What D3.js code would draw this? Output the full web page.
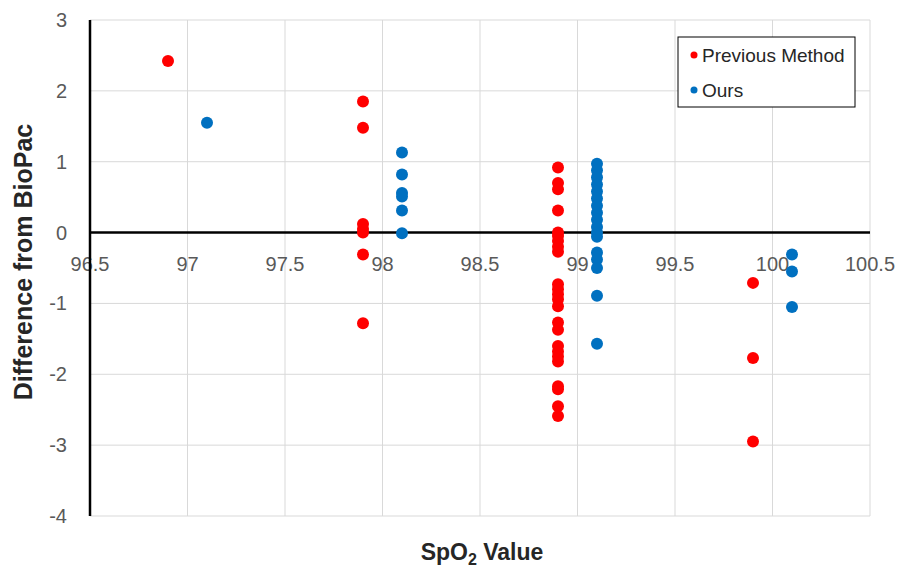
<!DOCTYPE html>
<html>
<head>
<meta charset="utf-8">
<script src="https://cdn.jsdelivr.net/npm/d3@7"></script>
<style>
  body { margin: 0; background: #fff; }
  svg { font-family: "Liberation Sans", Arial, sans-serif; }
</style>
</head>
<body>
<svg id="chart" width="905" height="571"></svg>
<script>
// data
var prevX = [96.9,
  97.9, 97.9, 97.9, 97.9, 97.9, 97.9, 97.9,
  98.9, 98.9, 98.9, 98.9, 98.9, 98.9, 98.9, 98.9, 98.9,
  98.9, 98.9, 98.9, 98.9, 98.9, 98.9, 98.9, 98.9, 98.9, 98.9, 98.9, 98.9, 98.9, 98.9, 98.9,
  99.9, 99.9, 99.9];
var prevY = [2.42,
  1.85, 1.48, 0.12, 0.05, 0.0, -0.31, -1.28,
  0.92, 0.7, 0.61, 0.31, 0.0, -0.05, -0.12, -0.2, -0.27,
  -0.73, -0.8, -0.87, -0.94, -1.04, -1.27, -1.37, -1.6, -1.68, -1.75, -1.82, -2.17, -2.21, -2.45, -2.59,
  -0.71, -1.77, -2.95];

var oursX = [97.1,
  98.1, 98.1, 98.1, 98.1, 98.1, 98.1,
  99.1, 99.1, 99.1, 99.1, 99.1, 99.1, 99.1, 99.1, 99.1, 99.1, 99.1, 99.1, 99.1, 99.1, 99.1, 99.1, 99.1,
  100.1, 100.1, 100.1];
var oursY = [1.55,
  1.13, 0.82, 0.56, 0.51, 0.31, -0.01,
  0.97, 0.88, 0.78, 0.68, 0.58, 0.48, 0.38, 0.28, 0.18, 0.08, 0.0, -0.06, -0.28, -0.38, -0.5, -0.89, -1.57,
  -0.31, -0.55, -1.05];

var xTicks = [96.5, 97, 97.5, 98, 98.5, 99, 99.5, 100, 100.5];
var yTicks = [3, 2, 1, 0, -1, -2, -3, -4];

var seriesNames = ["Previous Method", "Ours"];
var seriesColors = ["#ff0000", "#0070c0"];

var svg = d3.select("#chart");
var plotL = 90, plotR = 870, plotT = 20, plotB = 516;

var x = d3.scaleLinear().domain([96.5, 100.5]).range([plotL, plotR]);
var y = d3.scaleLinear().domain([-4, 3]).range([plotB, plotT]);

// gridlines
svg.append("g")
    .selectAll("line")
    .data(xTicks)
    .enter().append("line")
    .attr("x1", d => x(d)).attr("x2", d => x(d))
    .attr("y1", plotT).attr("y2", plotB)
    .style("stroke", "#d9d9d9").style("stroke-width", 1);

svg.append("g")
    .selectAll("line")
    .data(yTicks)
    .enter().append("line")
    .attr("x1", plotL).attr("x2", plotR)
    .attr("y1", d => y(d)).attr("y2", d => y(d))
    .style("stroke", "#d9d9d9").style("stroke-width", 1);

// y tick labels
svg.append("g")
    .selectAll("text")
    .data(yTicks)
    .enter().append("text")
    .attr("x", 67)
    .attr("y", d => y(d) + 7)
    .attr("text-anchor", "end")
    .style("font-size", "20px")
    .style("fill", "#595959")
    .text(d => d);

// x tick labels hang below the zero line
svg.append("g")
    .selectAll("text")
    .data(xTicks)
    .enter().append("text")
    .attr("x", d => x(d))
    .attr("y", y(0) + 38)
    .attr("text-anchor", "middle")
    .style("font-size", "20px")
    .style("fill", "#595959")
    .text(d => d);

// axes lines
svg.append("line")
    .attr("x1", plotL).attr("x2", plotR)
    .attr("y1", y(0)).attr("y2", y(0))
    .style("stroke", "#000").style("stroke-width", 2.5);
svg.append("line")
    .attr("x1", plotL).attr("x2", plotL)
    .attr("y1", plotT).attr("y2", plotB)
    .style("stroke", "#000").style("stroke-width", 2.5);

// points
svg.append("g")
    .selectAll("circle")
    .data(prevX.map((d, i) => [d, prevY[i]]))
    .enter().append("circle")
    .attr("cx", d => x(d[0]))
    .attr("cy", d => y(d[1]))
    .attr("r", 6)
    .style("fill", seriesColors[0]);

svg.append("g")
    .selectAll("circle")
    .data(oursX.map((d, i) => [d, oursY[i]]))
    .enter().append("circle")
    .attr("cx", d => x(d[0]))
    .attr("cy", d => y(d[1]))
    .attr("r", 6)
    .style("fill", seriesColors[1]);

// axis titles
svg.append("text")
    .attr("transform", "translate(32,262) rotate(-90)")
    .attr("text-anchor", "middle")
    .style("font-size", "25px")
    .style("font-weight", "bold")
    .style("fill", "#262626")
    .text("Difference from BioPac");

var xt = svg.append("text")
    .attr("x", 482)
    .attr("y", 560)
    .attr("text-anchor", "middle")
    .style("font-size", "23px")
    .style("font-weight", "bold")
    .style("fill", "#262626");
xt.append("tspan").text("SpO");
xt.append("tspan").attr("dy", 5).style("font-size", "16px").text("2");
xt.append("tspan").attr("dy", -5).text(" Value");

// legend
var legend = svg.append("g");
legend.append("rect")
    .attr("x", 678).attr("y", 37)
    .attr("width", 177).attr("height", 70)
    .style("fill", "#fff")
    .style("stroke", "#000").style("stroke-width", 1);

var entries = legend.selectAll("g")
    .data(seriesNames)
    .enter().append("g")
    .attr("transform", (d, i) => "translate(0," + (55 + i * 35) + ")");
entries.append("circle")
    .attr("cx", 694).attr("cy", 0).attr("r", 3.5)
    .style("fill", (d, i) => seriesColors[i]);
entries.append("text")
    .attr("x", 702).attr("y", 7)
    .style("font-size", "19px")
    .style("fill", "#262626")
    .text(d => d);
</script>
</body>
</html>
